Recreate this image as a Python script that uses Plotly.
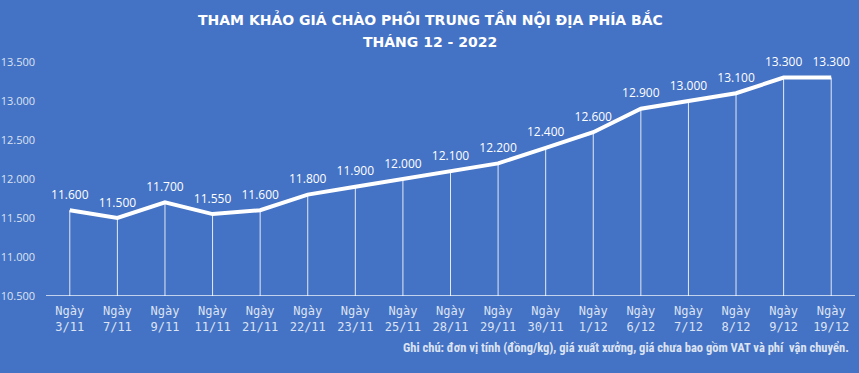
import plotly.graph_objects as go

dates = ["3/11", "7/11", "9/11", "11/11", "21/11", "22/11", "23/11", "25/11", "28/11",
         "29/11", "30/11", "1/12", "6/12", "7/12", "8/12", "9/12", "19/12"]
prices = [11600, 11500, 11700, 11550, 11600, 11800, 11900, 12000, 12100,
          12200, 12400, 12600, 12900, 13000, 13100, 13300, 13300]
categories = ["Ngày<br>" + d for d in dates]
y_min, y_max = 10500, 13500
y_ticks = [10500, 11000, 11500, 12000, 12500, 13000, 13500]

title1 = "THAM KHẢO GIÁ CHÀO PHÔI TRUNG TẦN NỘI ĐỊA PHÍA BẮC"
title2 = "THÁNG 12 - 2022"
note = "Ghi chú: đơn vị tính (đồng/kg), giá xuất xưởng, giá chưa bao gồm VAT và phí  vận chuyển."

BG = "#4472C4"
LIGHT = "#DCE3F2"

W, H = 859, 373
L, R, T, B = 46, 4, 62, 77
pw, ph = W - L - R, H - T - B


def px_x(x):
    return (x - L) / pw


def px_y(y):
    return (H - B - y) / ph


fig = go.Figure()
fig.add_trace(go.Scatter(
    x=categories, y=prices, mode="lines+markers+text",
    line=dict(color="white", width=4),
    marker=dict(size=12, color="rgba(0,0,0,0)"),
    text=prices, texttemplate="%{y:,.0f}", textposition="top center",
    textfont=dict(color="white", size=12, family="Open Sans"),
    error_y=dict(type="data", symmetric=False,
                 array=[0] * len(prices),
                 arrayminus=[p - y_min for p in prices],
                 color="rgba(255,255,255,0.85)", thickness=1, width=0),
    hoverinfo="skip", cliponaxis=False,
))

fig.update_layout(
    width=W, height=H,
    paper_bgcolor=BG, plot_bgcolor=BG,
    margin=dict(l=L, r=R, t=T, b=B, autoexpand=False),
    separators=",.",
    showlegend=False,
    font=dict(family="Open Sans", color=LIGHT, size=11),
    xaxis=dict(showgrid=False, zeroline=False, showline=False,
               range=[-0.5, len(categories) - 0.5],
               tickfont=dict(family="DejaVu Sans Mono", size=12, color=LIGHT),
               ticks="", ticklabelstandoff=6),
    yaxis=dict(range=[y_min, y_max], tickvals=y_ticks, tickformat=",.0f",
               showgrid=False, zeroline=False, showline=False, ticks="",
               tickfont=dict(family="Open Sans", size=11, color=LIGHT),
               ticklabelstandoff=10),
    shapes=[dict(type="line", xref="paper", yref="y", x0=0, x1=1, y0=y_min, y1=y_min,
                 line=dict(color="rgba(255,255,255,0.9)", width=1.5))],
    annotations=[
        dict(text="<b>" + title1 + "</b>", x=px_x(430), y=px_y(19), xref="paper", yref="paper",
             yanchor="middle", showarrow=False,
             font=dict(family="DejaVu Sans", size=14, color="white")),
        dict(text="<b>" + title2 + "</b>", x=px_x(430), y=px_y(42), xref="paper", yref="paper",
             yanchor="middle", showarrow=False,
             font=dict(family="DejaVu Sans", size=14, color="white")),
        dict(text="<b>" + note + "</b>", x=px_x(851), y=px_y(347), xref="paper", yref="paper",
             xanchor="right", yanchor="middle", showarrow=False,
             font=dict(family="Liberation Sans Narrow, Roboto Condensed, Roboto", size=12.5, color=LIGHT)),
    ],
)

fig.write_html("out.html", config={"displayModeBar": False},
               post_script="document.body.style.margin='0';document.body.style.background='" + BG + "';")
